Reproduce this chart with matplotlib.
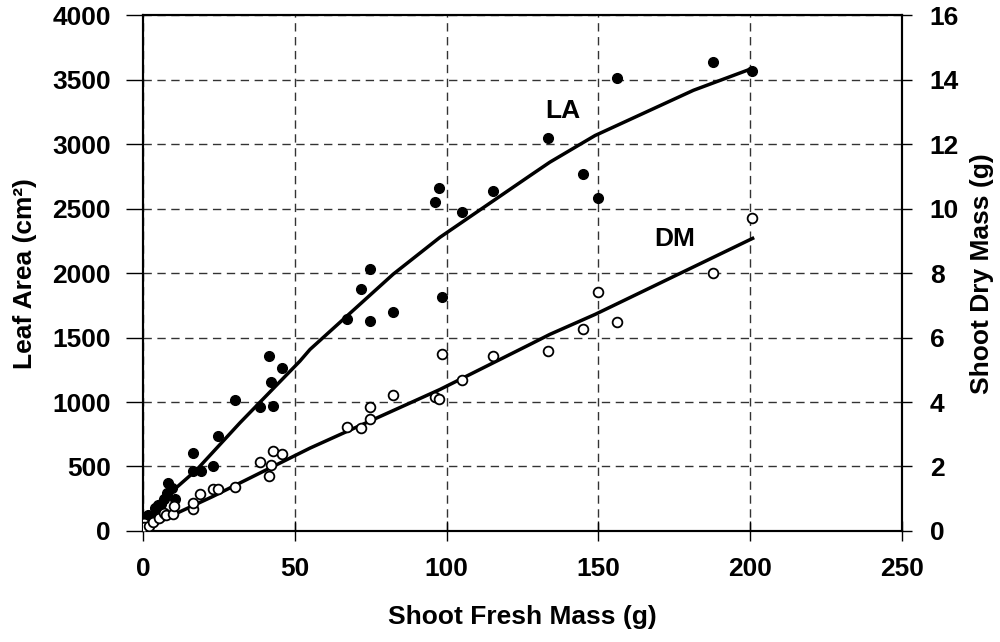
import numpy as np
import matplotlib
matplotlib.use('Agg')
import matplotlib.pyplot as plt

plt.rcParams['font.family'] = ['Liberation Sans', 'DejaVu Sans']
plt.rcParams['font.weight'] = 'bold'

# leaf area (filled) vs shoot fresh mass
la_x = [0.3, 0.7, 1.8, 2.5, 4.0, 5.0, 6.0, 7.0, 7.8, 8.3, 9.7, 10.5,
        16.6, 16.6, 19.1, 22.9, 24.7, 30.4, 38.5, 41.6, 42.0, 42.7, 45.7,
        67.1, 71.8, 74.8, 74.8, 82.5, 96.3, 97.5, 98.6, 105.0, 115.4,
        133.5, 145.0, 149.8, 156.2, 187.6, 200.6]
la_y = [40, 72, 125, 110, 180, 202, 210, 250, 293, 371, 330, 250,
        605, 462, 462, 506, 739, 1014, 960, 1357, 1154, 973, 1261,
        1647, 1881, 2031, 1632, 1702, 2555, 2664, 1813, 2472, 2638,
        3048, 2773, 2581, 3515, 3640, 3572]

# shoot dry mass (open) vs shoot fresh mass
dm_x = [0.2, 0.3, 2.1, 3.4, 5.4, 7.0, 7.6, 10.0, 10.2, 16.6, 16.6, 18.8,
        22.9, 24.7, 30.4, 38.5, 41.6, 42.0, 42.7, 45.7,
        67.1, 71.8, 74.8, 74.8, 82.5, 96.2, 97.5, 98.6, 105.0, 115.4,
        133.5, 145.0, 149.8, 156.2, 187.6, 200.5]
dm_y = [0.25, 0.13, 0.16, 0.29, 0.39, 0.55, 0.50, 0.53, 0.78, 0.67, 0.88, 1.15,
        1.30, 1.30, 1.36, 2.13, 1.71, 2.06, 2.47, 2.40,
        3.23, 3.18, 3.84, 3.46, 4.21, 4.16, 4.11, 5.49, 4.67, 5.43,
        5.59, 6.26, 7.41, 6.47, 8.00, 9.71]

# fitted curves
la_fit_x = [0, 8.9, 17.7, 31.9, 51.7, 55, 82.4, 97.8, 127.5, 134, 148.9, 181.3, 200.6]
la_fit_y = [0, 293, 475, 838, 1318, 1408, 1992, 2278, 2757, 2861, 3068, 3419, 3588]
dm_fit_x = [0, 10, 23, 55, 97.8, 127.5, 134, 148.9, 200.8]
dm_fit_y = [0, 0.50, 1.07, 2.57, 4.39, 5.79, 6.10, 6.72, 9.08]

fig = plt.figure(figsize=(10, 6.42), dpi=100)
ax = fig.add_axes([0.143, 0.173, 0.759, 0.8030])
ax2 = ax.twinx()

ax.plot(la_fit_x, la_fit_y, color='black', lw=2.5, zorder=3)
ax.plot(la_x, la_y, 'o', color='black', ms=7, zorder=4)
ax2.plot(dm_fit_x, dm_fit_y, color='black', lw=2.5, zorder=3)
ax2.plot(dm_x, dm_y, 'o', mfc='white', mec='black', mew=1.3, ms=7, zorder=4)

ax.set_xlim(0, 250)
ax.set_ylim(0, 4000)
ax2.set_ylim(0, 16)
ax.set_xticks(np.arange(0, 251, 50))
ax.set_yticks(np.arange(0, 4001, 500))
ax2.set_yticks(np.arange(0, 17, 2))

ax.grid(True, color='#333333', linestyle=(0, (6, 4)), lw=1)
ax.set_axisbelow(True)

for a in (ax, ax2):
    for s in a.spines.values():
        s.set_linewidth(1.5)
    a.tick_params(labelsize=19, width=1, pad=12)
ax.tick_params(axis='x', direction='inout', length=14, pad=12)
ax.tick_params(axis='y', direction='out', length=12, pad=11)
ax2.tick_params(axis='y', direction='out', length=7, pad=13)

ax.set_xlabel('Shoot Fresh Mass (g)', fontsize=19, fontweight='bold', labelpad=17)
ax.set_ylabel('Leaf Area (cm²)', fontsize=19, fontweight='bold', labelpad=11)
ax2.set_ylabel('Shoot Dry Mass (g)', fontsize=19, fontweight='bold', labelpad=8)

ax.text(138.3, 3260, 'LA', fontsize=19, fontweight='bold', ha='center', va='center')
ax.text(175, 2265, 'DM', fontsize=19, fontweight='bold', ha='center', va='center')

fig.savefig('out.png', dpi=100)
